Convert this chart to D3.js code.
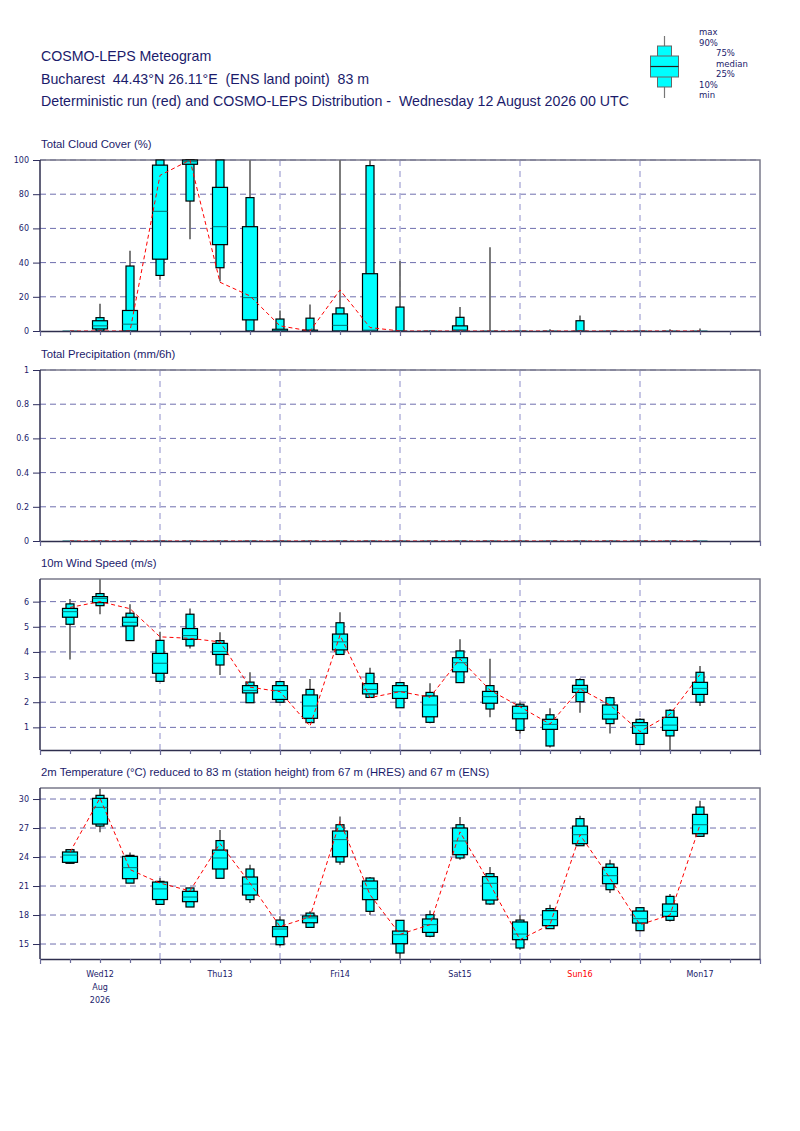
<!DOCTYPE html>
<html>
<head>
<meta charset="utf-8">
<script src="https://cdn.jsdelivr.net/npm/d3@7"></script>
<style>
  body { margin: 0; background: #fff; }
  text { fill: #1b1b6b; white-space: pre; }
</style>
</head>
<body>
<div id="chart"></div>
<script>
// lead times (hours after Wed 12 Aug 2026 00 UTC)
const leadHours = [6, 12, 18, 24, 30, 36, 42, 48, 54, 60, 66, 72, 78, 84, 90, 96, 102, 108, 114, 120, 126, 132];
const dayLabels = ["Wed12", "Thu13", "Fri14", "Sat15", "Sun16", "Mon17"];

// Total cloud cover (%)
const cloudMax = [0, 16, 47, 100, 100, 100, 100, 12, 15.5, 100, 100, 41, 0.5, 14, 49, 0, 1, 9, 0, 0, 1, 1.5];
const cloudP90 = [0, 7.8, 38, 100, 100, 100, 78, 7, 7.5, 13.5, 96.7, 14, 0, 8, 0, 0, 0, 6, 0, 0, 0, 0];
const cloudP75 = [0, 6, 12, 97, 100, 84, 61, 1, 0.5, 10, 33.5, 0, 0, 3, 0, 0, 0, 0, 0, 0, 0, 0];
const cloudMed = [0, 3, 4, 70, 99, 61, 19.5, 0.5, 0, 3.3, 0.5, 0, 0, 0.7, 0, 0, 0, 0, 0, 0, 0, 0];
const cloudP25 = [0, 1.2, 0, 42, 97.5, 50.5, 6.5, 0, 0, 0, 0, 0, 0, 0, 0, 0, 0, 0, 0, 0, 0, 0];
const cloudP10 = [0, 0, 0, 32.5, 76, 37, 0, 0, 0, 0, 0, 0, 0, 0, 0, 0, 0, 0, 0, 0, 0, 0];
const cloudMin = [0, 0, 0, 30, 53.6, 29, 0, 0, 0, 0, 0, 0, 0, 0, 0, 0, 0, 0, 0, 0, 0, 0];
const cloudDet = [0, 0, 0, 91, 100, 28.5, 20.5, 3, 0, 24, 2, 0, 0, 0, 0, 0, 0, 0, 0, 0, 0, 0];

// Total precipitation (mm/6h)
const precMax = [0, 0, 0, 0, 0, 0, 0, 0, 0, 0, 0, 0, 0, 0, 0, 0, 0, 0, 0, 0, 0, 0];
const precP90 = [0, 0, 0, 0, 0, 0, 0, 0, 0, 0, 0, 0, 0, 0, 0, 0, 0, 0, 0, 0, 0, 0];
const precP75 = [0, 0, 0, 0, 0, 0, 0, 0, 0, 0, 0, 0, 0, 0, 0, 0, 0, 0, 0, 0, 0, 0];
const precMed = [0, 0, 0, 0, 0, 0, 0, 0, 0, 0, 0, 0, 0, 0, 0, 0, 0, 0, 0, 0, 0, 0];
const precP25 = [0, 0, 0, 0, 0, 0, 0, 0, 0, 0, 0, 0, 0, 0, 0, 0, 0, 0, 0, 0, 0, 0];
const precP10 = [0, 0, 0, 0, 0, 0, 0, 0, 0, 0, 0, 0, 0, 0, 0, 0, 0, 0, 0, 0, 0, 0];
const precMin = [0, 0, 0, 0, 0, 0, 0, 0, 0, 0, 0, 0, 0, 0, 0, 0, 0, 0, 0, 0, 0, 0];
const precDet = [0, 0, 0, 0, 0, 0, 0, 0, 0, 0, 0, 0, 0, 0, 0, 0, 0, 0, 0, 0, 0, 0];

// 10m wind speed (m/s)
const windMax = [6.1, 6.9, 5.9, 4.8, 5.73, 4.78, 3.19, 2.82, 2.92, 5.58, 3.37, 2.78, 2.75, 4.5, 3.73, 2.02, 1.76, 2.95, 2.22, 1.36, 1.73, 3.44];
const windP90 = [5.91, 6.32, 5.54, 4.46, 5.5, 4.45, 2.8, 2.82, 2.51, 5.16, 3.15, 2.78, 2.39, 4.04, 2.66, 1.92, 1.5, 2.9, 2.18, 1.32, 1.68, 3.19];
const windP75 = [5.73, 6.2, 5.38, 3.94, 4.93, 4.34, 2.66, 2.66, 2.29, 4.71, 2.74, 2.66, 2.25, 3.77, 2.43, 1.84, 1.32, 2.67, 1.89, 1.19, 1.4, 2.79];
const windMed = [5.6, 6.13, 5.18, 3.55, 4.65, 4.02, 2.47, 2.47, 1.85, 4.4, 2.51, 2.42, 1.89, 3.57, 2.22, 1.56, 1.12, 2.53, 1.52, 1.07, 1.09, 2.55];
const windP25 = [5.38, 5.96, 5.03, 3.15, 4.5, 3.9, 2.37, 2.11, 1.36, 4.08, 2.33, 2.15, 1.42, 3.21, 1.96, 1.34, 0.92, 2.39, 1.33, 0.76, 0.88, 2.31];
const windP10 = [5.1, 5.84, 4.45, 2.83, 4.24, 3.48, 1.98, 2.0, 1.19, 3.9, 2.19, 1.78, 1.2, 2.78, 1.73, 0.88, 0.26, 2.02, 1.15, 0.32, 0.66, 2.0];
const windMin = [3.7, 5.5, 4.45, 2.83, 4.14, 3.08, 1.98, 2.0, 1.19, 3.88, 2.19, 1.78, 1.16, 2.78, 1.4, 0.76, 0.2, 1.58, 0.76, 0.32, 0.1, 1.85];
const windDet = [5.77, 6.0, 5.72, 4.6, 4.54, 4.4, 2.6, 2.42, 1.05, 4.67, 2.18, 2.42, 2.2, 3.72, 2.48, 1.82, 1.13, 2.53, 1.89, 0.83, 1.52, 3.1];

// 2m temperature (C)
const tempMax = [24.76, 31.07, 24.48, 21.83, 20.83, 26.8, 23.2, 17.86, 18.38, 28.2, 21.93, 17.45, 18.48, 28.14, 22.97, 18.03, 19.07, 28.28, 23.72, 18.83, 20.17, 29.83];
const tempP90 = [24.76, 30.38, 24.17, 21.48, 20.8, 25.7, 22.76, 17.48, 18.2, 27.34, 21.83, 17.45, 18.03, 27.34, 22.28, 17.48, 18.66, 27.97, 23.28, 18.76, 19.93, 29.17];
const tempP75 = [24.52, 30.07, 24.07, 21.41, 20.45, 24.72, 21.93, 16.8, 17.9, 26.69, 21.52, 16.34, 17.59, 27.0, 21.97, 17.28, 18.45, 27.2, 22.93, 18.41, 19.14, 28.41];
const tempMed = [24.2, 29.14, 22.9, 20.7, 19.86, 23.9, 21.2, 16.55, 17.7, 25.8, 20.72, 15.97, 17.0, 25.66, 21.28, 16.03, 17.52, 26.31, 22.07, 17.62, 18.38, 27.34];
const tempP25 = [23.45, 27.41, 21.76, 19.6, 19.38, 22.76, 20.07, 15.76, 17.2, 24.03, 19.59, 15.03, 16.2, 24.24, 19.55, 15.45, 16.9, 25.38, 21.24, 17.17, 17.86, 26.41];
const tempP10 = [23.35, 27.2, 21.3, 19.1, 18.83, 21.8, 19.59, 14.93, 16.72, 23.48, 18.38, 14.07, 15.8, 23.9, 19.14, 14.59, 16.59, 25.17, 20.62, 16.38, 17.45, 26.14];
const tempMin = [23.3, 26.55, 21.3, 19.1, 18.83, 21.8, 19.24, 14.76, 16.72, 23.2, 18.0, 13.5, 15.7, 23.72, 19.07, 14.41, 16.59, 25.17, 20.28, 16.38, 17.34, 26.07];
const tempDet = [24.5, 30.1, 22.7, 21.3, 20.5, 25.4, 21.3, 16.8, 17.8, 27.7, 20.1, 16.0, 17.0, 26.6, 21.2, 15.45, 17.0, 26.3, 21.8, 17.0, 18.0, 27.34];

const svg = d3.select("#chart").append("svg")
    .attr("width", 800)
    .attr("height", 1131)
    .style("font-family", "'Liberation Sans', Arial, sans-serif");

const x = d3.scaleLinear().domain([0, 144]).range([40, 760]);
const navy = "#1b1b6b";

// Header
const header = [
  "COSMO-LEPS Meteogram",
  "Bucharest  44.43\u00B0N 26.11\u00B0E  (ENS land point)  83 m",
  "Deterministic run (red) and COSMO-LEPS Distribution -  Wednesday 12 August 2026 00 UTC"
];
svg.selectAll(".hdr").data(header).enter().append("text")
   .attr("x", 41)
   .attr("y", (d, i) => 61 + i * 22.5)
   .attr("xml:space", "preserve")
   .style("font-size", "14.2px")
   .style("fill", navy)
   .text(d => d);

// Legend box plot
const lg = svg.append("g");
lg.append("line").attr("x1", 664.5).attr("x2", 664.5).attr("y1", 36).attr("y2", 98)
  .attr("stroke", "#777").attr("stroke-width", 1.2);
lg.append("rect").attr("x", 657.5).attr("y", 46).attr("width", 14).attr("height", 41)
  .attr("fill", "#00ffff").attr("stroke", "#666");
lg.append("rect").attr("x", 650.5).attr("y", 56).attr("width", 28).attr("height", 21)
  .attr("fill", "#00ffff").attr("stroke", "#666");
lg.append("line").attr("x1", 650.5).attr("x2", 678.5).attr("y1", 66.5).attr("y2", 66.5)
  .attr("stroke", "#222").attr("stroke-width", 1.2);
const legendLabels = [
  ["max", 699, 35], ["90%", 699, 45.5], ["75%", 716, 56], ["median", 716, 66.5],
  ["25%", 716, 77], ["10%", 699, 87.5], ["min", 699, 98]
];
lg.selectAll("text").data(legendLabels).enter().append("text")
  .attr("x", d => d[1]).attr("y", d => d[2])
  .style("font-family", "'DejaVu Sans', sans-serif")
  .style("font-size", "8.5px")
  .style("fill", navy)
  .text(d => d[0]);

const panels = [
  { title: "Total Cloud Cover (%)", top: 160, bottom: 331, domain: [0, 100],
    ticks: [0, 20, 40, 60, 80, 100], fmt: d3.format("d"),
    max: cloudMax, p90: cloudP90, p75: cloudP75, med: cloudMed, p25: cloudP25, p10: cloudP10, min: cloudMin, det: cloudDet },
  { title: "Total Precipitation (mm/6h)", top: 370, bottom: 541, domain: [0, 1],
    ticks: [0, 0.2, 0.4, 0.6, 0.8, 1], fmt: d => d,
    max: precMax, p90: precP90, p75: precP75, med: precMed, p25: precP25, p10: precP10, min: precMin, det: precDet },
  { title: "10m Wind Speed (m/s)", top: 579, bottom: 750, domain: [0.1, 6.9],
    ticks: [1, 2, 3, 4, 5, 6], fmt: d3.format("d"),
    max: windMax, p90: windP90, p75: windP75, med: windMed, p25: windP25, p10: windP10, min: windMin, det: windDet },
  { title: "2m Temperature (\u00B0C) reduced to 83 m (station height) from 67 m (HRES) and 67 m (ENS)",
    top: 788, bottom: 959, domain: [13.45, 31.14],
    ticks: [15, 18, 21, 24, 27, 30], fmt: d3.format("d"),
    max: tempMax, p90: tempP90, p75: tempP75, med: tempMed, p25: tempP25, p10: tempP10, min: tempMin, det: tempDet }
];

panels.forEach(p => drawPanel(p));

function drawPanel(p) {
  const y = d3.scaleLinear().domain(p.domain).range([p.bottom, p.top]);
  const g = svg.append("g");

  g.append("text")
   .attr("x", 41).attr("y", p.top - 12)
   .style("font-size", "11.3px")
   .style("fill", navy)
   .text(p.title);

  // horizontal dashed grid
  g.selectAll(".hgrid").data(p.ticks.filter(t => y(t) < p.bottom - 2)).enter()
   .append("line")
   .attr("x1", 40).attr("x2", 760)
   .attr("y1", d => y(d)).attr("y2", d => y(d))
   .attr("stroke", "#6e6eae").attr("stroke-width", 1)
   .attr("stroke-dasharray", "6,4");

  // vertical dashed lines at day boundaries
  g.selectAll(".vgrid").data([24, 48, 72, 96, 120]).enter()
   .append("line")
   .attr("x1", d => x(d)).attr("x2", d => x(d))
   .attr("y1", p.top).attr("y2", p.bottom)
   .attr("stroke", "#b4b4dc").attr("stroke-width", 1.5)
   .attr("stroke-dasharray", "6,5");

  // frame top / right
  g.append("path")
   .attr("d", `M40,${p.top}H760V${p.bottom}`)
   .attr("fill", "none").attr("stroke", "#7a7a8a").attr("stroke-width", 1.5);

  const idx = d3.range(leadHours.length);
  const wNarrow = 8, wWide = 15;

  // whiskers
  g.selectAll(".whisk").data(idx).enter().append("line")
   .attr("x1", i => x(leadHours[i])).attr("x2", i => x(leadHours[i]))
   .attr("y1", i => y(p.max[i])).attr("y2", i => y(p.min[i]))
   .attr("stroke", "#6e6e6e").attr("stroke-width", 1.8);

  // 10-90 box
  g.selectAll(".b1090").data(idx).enter().append("rect")
   .attr("x", i => x(leadHours[i]) - wNarrow / 2)
   .attr("y", i => y(p.p90[i]))
   .attr("width", wNarrow)
   .attr("height", i => y(p.p10[i]) - y(p.p90[i]))
   .attr("fill", "#00ffff").attr("stroke", "#000").attr("stroke-width", 1.2);

  // 25-75 box
  g.selectAll(".b2575").data(idx).enter().append("rect")
   .attr("x", i => x(leadHours[i]) - wWide / 2)
   .attr("y", i => y(p.p75[i]))
   .attr("width", wWide)
   .attr("height", i => y(p.p25[i]) - y(p.p75[i]))
   .attr("fill", "#00ffff").attr("stroke", "#000").attr("stroke-width", 1.2);

  // median
  g.selectAll(".med").data(idx).enter().append("line")
   .attr("x1", i => x(leadHours[i]) - wWide / 2).attr("x2", i => x(leadHours[i]) + wWide / 2)
   .attr("y1", i => y(p.med[i])).attr("y2", i => y(p.med[i]))
   .attr("stroke", "#007474").attr("stroke-width", 1);

  // deterministic run
  const line = d3.line().x((d, i) => x(leadHours[i])).y(d => y(d));
  g.append("path").datum(p.det)
   .attr("d", line)
   .attr("fill", "none").attr("stroke", "#ff0000").attr("stroke-width", 1)
   .attr("stroke-dasharray", "4,3");

  // y axis
  const ya = g.append("g").attr("transform", "translate(40,0)")
    .call(d3.axisLeft(y).tickValues(p.ticks).tickFormat(p.fmt).tickSize(7).tickSizeOuter(0));
  ya.select(".domain").attr("stroke", "#2e2e4e").attr("stroke-width", 1.5)
    .attr("d", `M0,${p.top}V${p.bottom}`);
  ya.selectAll(".tick line").attr("stroke", "#2e2e5e");
  ya.selectAll(".tick text")
    .attr("x", -11)
    .style("font-family", "'DejaVu Sans', sans-serif")
    .style("font-size", "8px")
    .style("fill", navy);

  // x axis
  const xa = g.append("g").attr("transform", `translate(0,${p.bottom})`)
    .call(d3.axisBottom(x).tickValues(d3.range(0, 145, 6)).tickFormat("").tickSize(4).tickSizeOuter(0));
  xa.select(".domain").attr("stroke", "#2e2e4e").attr("stroke-width", 1.5);
  xa.selectAll(".tick line").attr("stroke", "#6a6a9a").attr("stroke-width", 1.2)
    .attr("y2", d => d % 24 === 0 ? 5 : 4);
}

// day labels under the last panel
svg.selectAll(".day").data(dayLabels).enter().append("text")
   .attr("x", (d, i) => x(i * 24 + 12))
   .attr("y", 977)
   .attr("text-anchor", "middle")
   .style("font-family", "'DejaVu Sans', sans-serif")
   .style("font-size", "8px")
   .style("fill", d => d.startsWith("Sun") ? "#ff0000" : navy)
   .text(d => d);
svg.selectAll(".dsub").data(["Aug", "2026"]).enter().append("text")
   .attr("x", x(12))
   .attr("y", (d, i) => 990 + i * 13)
   .attr("text-anchor", "middle")
   .style("font-family", "'DejaVu Sans', sans-serif")
   .style("font-size", "8px")
   .style("fill", navy)
   .text(d => d);
</script>
</body>
</html>
